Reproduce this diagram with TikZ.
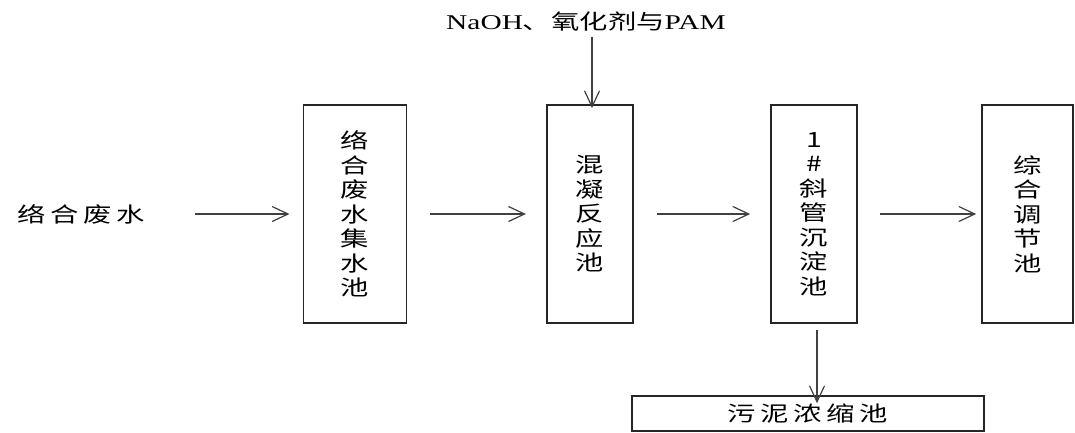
\documentclass[tikz,border=0pt]{standalone}
\usepackage{fontspec}
\usetikzlibrary{arrows.meta}
\newfontfamily\cjk[FakeStretch=1.35]{Noto Sans CJK SC}
\newfontfamily\cjkh[FakeStretch=1.35,LetterSpace=22]{Noto Sans CJK SC}
\newfontfamily\latf[FakeStretch=1.4]{Liberation Serif}
\begin{document}
\begin{tikzpicture}[x=1pt,y=-1pt,
  tank/.style={draw=black!85,line width=1.6pt,rectangle,inner sep=0pt,align=center,
    font=\cjk\fontsize{21}{24.5}\selectfont},
  flow/.style={draw=black!75,line width=1.3pt,-{Straight Barb[length=16pt,width=15pt,line width=1.2pt]}},
  lbl/.style={inner sep=0pt,font=\cjkh\fontsize{21}{24.5}\selectfont}]
\useasboundingbox (0,0) rectangle (1075,432);
\node[lbl] (src) at (81,214) {络合废水};
\node[tank,minimum width=103,minimum height=218] (b1) at (354.8,214) {络\\合\\废\\水\\集\\水\\池};
\node[tank,minimum width=86,minimum height=218] (b2) at (589.7,214) {混\\凝\\反\\应\\池};
\node[tank,minimum width=86,minimum height=218] (b3) at (814,214) {1\\\#\\斜\\管\\沉\\淀\\池};
\node[tank,minimum width=91,minimum height=218] (b4) at (1027.5,214) {综\\合\\调\\节\\池};
\node[tank,minimum width=352,minimum height=35] (b5) at (808,413.5) {\cjkh 污泥浓缩池};
\node[inner sep=0pt,font=\fontsize{21}{24}\selectfont] (top) at (586,21) {{\latf NaOH}{\cjk 、氧化剂与}{\latf PAM}};
\coordinate (s1) at (195,214);
\coordinate (s2) at (430,214);
\coordinate (s3) at (657,214);
\coordinate (s4) at (880,214);
\coordinate (t0) at (592,37);
\coordinate (d0) at (817,330);
\draw[flow] (s1) -- ([xshift=-13pt]b1.west);
\draw[flow] (s2) -- ([xshift=-20pt]b2.west);
\draw[flow] (s3) -- ([xshift=-20pt]b3.west);
\draw[flow] (s4) -- ([xshift=-5pt]b4.west);
\draw[flow] (t0) -- ([yshift=-4pt]t0 |- b2.north);
\draw[flow] (d0) -- ([yshift=-8pt]d0 |- b5.north);
\end{tikzpicture}
\end{document}
